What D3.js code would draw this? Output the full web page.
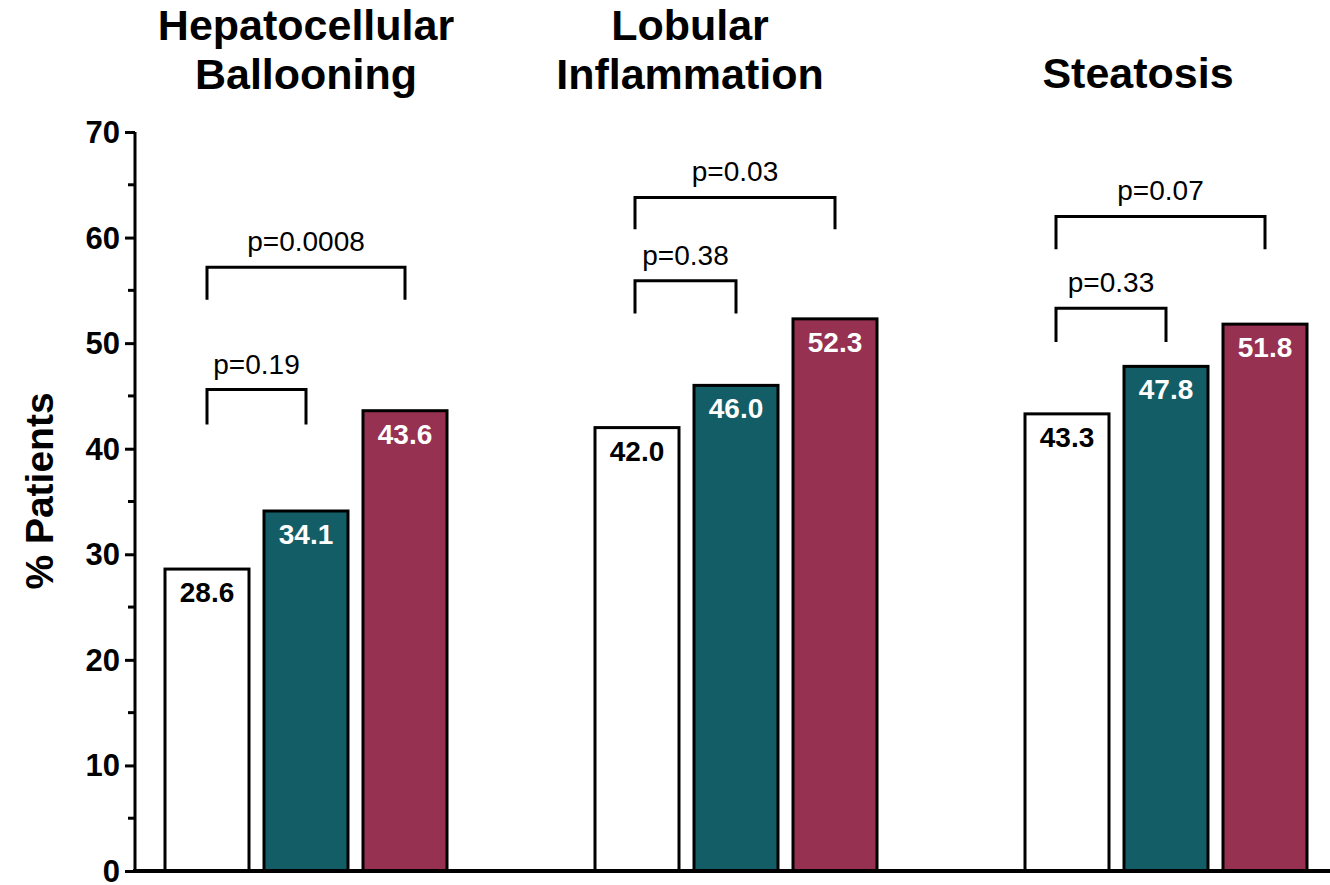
<!DOCTYPE html>
<html>
<head>
<meta charset="utf-8">
<script src="https://cdn.jsdelivr.net/npm/d3@7"></script>
<style>
  html, body { margin: 0; padding: 0; background: #fff; }
  svg { display: block; font-family: "Liberation Sans", Arial, Helvetica, sans-serif; }
</style>
</head>
<body>
<svg id="chart" width="1330" height="885"></svg>
<script>
// Histological features, % of patients per group
const categories = ["Hepatocellular Ballooning", "Lobular Inflammation", "Steatosis"];
const titleLines = [["Hepatocellular", "Ballooning"], ["Lobular", "Inflammation"], ["Steatosis"]];
const seriesKeys = ["s1", "s2", "s3"];
const seriesFills = ["#ffffff", "#135e66", "#963151"];
const seriesLabelColors = ["#000000", "#ffffff", "#ffffff"];

const values = [
  [28.6, 34.1, 43.6],
  [42.0, 46.0, 52.3],
  [43.3, 47.8, 51.8]
];

// Pairwise comparisons: [from series, to series, p text, bracket top, leg end] per category
const comparisons = [
  [[0, 1, "p=0.19", 45.6, 42.3], [0, 2, "p=0.0008", 57.2, 54.1]],
  [[0, 1, "p=0.38", 55.9, 52.8], [0, 2, "p=0.03", 63.8, 60.8]],
  [[0, 1, "p=0.33", 53.3, 50.1], [0, 2, "p=0.07", 62.0, 58.9]]
];

const yTicks = [0, 10, 20, 30, 40, 50, 60, 70];
const yMinorTicks = [5, 15, 25, 35, 45, 55, 65];

const svg = d3.select("#chart");

const y = d3.scaleLinear().domain([0, 70]).range([871, 132]);

const x0 = d3.scaleBand().domain(categories).range([91, 1381]).padding(0);
const x1 = d3.scaleBand().domain(seriesKeys).range([-141, 141]).paddingInner(15 / 99).paddingOuter(0);

// Title offsets relative to each category centre
const titleShift = [0, -46, -28];
// Bracket start offset for each category (px, relative to first bar centre)
const bracketShift = [0, -2, -11];

// Category titles
categories.forEach((c, i) => {
  const cx = x0(c) + x0.bandwidth() / 2 + titleShift[i];
  const lines = titleLines[i];
  const t = svg.append("text")
    .attr("x", cx)
    .attr("text-anchor", "middle")
    .attr("font-weight", "bold")
    .attr("font-size", 43)
    .attr("fill", "#000");
  lines.forEach((ln, j) => {
    t.append("tspan")
      .attr("x", cx)
      .attr("y", lines.length === 1 ? 88 : 40 + j * 49)
      .text(ln);
  });
});

// Bars
const groups = svg.selectAll("g.cat")
  .data(categories)
  .join("g")
  .attr("class", "cat")
  .attr("transform", c => `translate(${x0(c) + x0.bandwidth() / 2},0)`);

groups.each(function (c, ci) {
  const g = d3.select(this);
  seriesKeys.forEach((k, si) => {
    const v = values[ci][si];
    g.append("rect")
      .attr("x", x1(k))
      .attr("y", y(v))
      .attr("width", x1.bandwidth())
      .attr("height", y(0) - y(v))
      .attr("fill", seriesFills[si])
      .attr("stroke", "#000")
      .attr("stroke-width", 3);
    g.append("text")
      .attr("x", x1(k) + x1.bandwidth() / 2)
      .attr("y", y(v) + 33)
      .attr("text-anchor", "middle")
      .attr("font-weight", "bold")
      .attr("font-size", 28)
      .attr("fill", seriesLabelColors[si])
      .text(v.toFixed(1));
  });

  // Significance brackets
  comparisons[ci].forEach(([a, b, label, top, leg]) => {
    const xa = x1(seriesKeys[a]) + x1.bandwidth() / 2 + bracketShift[ci];
    const xb = x1(seriesKeys[b]) + x1.bandwidth() / 2;
    g.append("path")
      .attr("d", `M${xa},${y(leg)}V${y(top)}H${xb}V${y(leg)}`)
      .attr("fill", "none")
      .attr("stroke", "#000")
      .attr("stroke-width", 3);
    g.append("text")
      .attr("x", (xa + xb) / 2)
      .attr("y", y(top) - 16)
      .attr("text-anchor", "middle")
      .attr("font-size", 28)
      .attr("fill", "#000")
      .text(label);
  });
});

// Y axis
const yAxis = svg.append("g")
  .attr("transform", "translate(135,0)")
  .call(d3.axisLeft(y).tickValues(yTicks).tickSize(10).tickPadding(5).tickFormat(d3.format("d")));
yAxis.select(".domain").attr("stroke", "#000").attr("stroke-width", 3).attr("d", `M0,${y(70)}V${y(0)}`);
yAxis.selectAll(".tick line").attr("stroke", "#000").attr("stroke-width", 3);
yAxis.selectAll(".tick text")
  .attr("font-family", "Liberation Sans, Arial, sans-serif")
  .attr("font-weight", "bold")
  .attr("font-size", 31)
  .attr("dy", "0.34em")
  .attr("fill", "#000");

svg.append("g")
  .selectAll("line")
  .data(yMinorTicks)
  .join("line")
  .attr("x1", 128).attr("x2", 135)
  .attr("y1", d => y(d)).attr("y2", d => y(d))
  .attr("stroke", "#000").attr("stroke-width", 3);

// X axis baseline
svg.append("line")
  .attr("x1", 133).attr("x2", 1330)
  .attr("y1", y(0)).attr("y2", y(0))
  .attr("stroke", "#000")
  .attr("stroke-width", 4);

// Y axis title
svg.append("text")
  .attr("transform", "translate(53,491) rotate(-90)")
  .attr("text-anchor", "middle")
  .attr("font-weight", "bold")
  .attr("font-size", 39)
  .attr("fill", "#000")
  .text("% Patients");
</script>
</body>
</html>
